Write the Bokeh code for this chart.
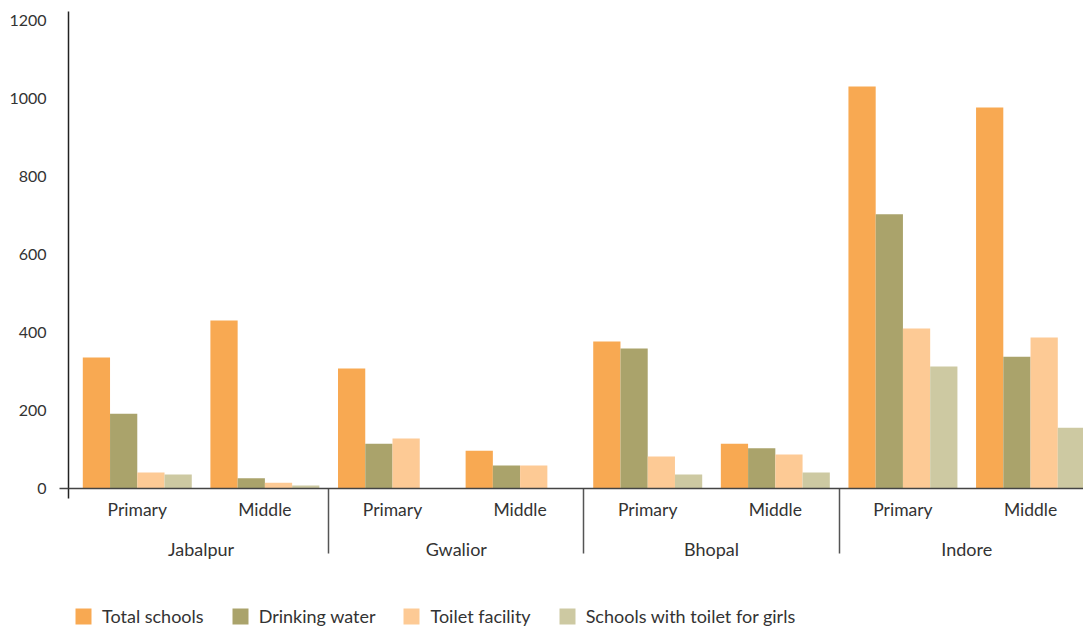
from bokeh.plotting import figure
from bokeh.layouts import column
from bokeh.models import Range1d, LinearAxis, FixedTicker, Span, Legend, LegendItem
from bokeh.embed import file_html
from bokeh.resources import INLINE

cities = ["Jabalpur", "Gwalior", "Bhopal", "Indore"]
levels = ["Primary", "Middle"]
series_names = ["Total schools", "Drinking water", "Toilet facility", "Schools with toilet for girls"]
total_schools = [336, 431, 308, 97, 377, 115, 1031, 977]
drinking_water = [192, 26, 115, 59, 359, 103, 703, 338]
toilet_facility = [41, 15, 128, 59, 82, 87, 410, 387]
girls_toilet = [36, 8, 0, 0, 36, 41, 313, 156]
y_ticks = [0, 200, 400, 600, 800, 1000, 1200]
colors = ["#F8A952", "#AAA36B", "#FDCA95", "#CDC9A2"]

FONT = "Lato"
TEXT = "#333333"

n_cat = len(cities) * len(levels)
centers = [i + 0.5 for i in range(n_cat)]
sub_labels = [levels[i % len(levels)] for i in range(n_cat)]
group_centers = [len(levels) * g + len(levels) / 2 for g in range(len(cities))]
separators = [len(levels) * g for g in range(1, len(cities))]

p = figure(width=1083, height=598, output_backend="svg", toolbar_location=None,
           x_range=Range1d(-0.039, 7.915), y_range=Range1d(-25.6, 1223),
           min_border_left=68, min_border_right=0, min_border_top=11, min_border_bottom=100)
p.outline_line_color = None
p.xgrid.visible = False
p.ygrid.visible = False
p.background_fill_color = "white"
p.border_fill_color = "white"

series = [total_schools, drinking_water, toilet_facility, girls_toilet]
bw = 0.2135
for k, vals in enumerate(series):
    xs = [c + (k - 1.5) * bw for c in centers]
    p.vbar(x=xs, top=vals, bottom=0, width=bw, fill_color=colors[k], line_color=None)

# baseline at zero
p.add_layout(Span(location=0, dimension="width", line_color="#444444", line_width=1.5))

# y axis
ya = p.yaxis[0]
ya.ticker = FixedTicker(ticks=y_ticks, minor_ticks=[0])
ya.axis_line_color = "#222222"
ya.axis_line_width = 1.5
ya.major_tick_out = 0
ya.major_tick_in = 0
ya.minor_tick_out = 9
ya.minor_tick_in = 0
ya.minor_tick_line_color = "#444444"
ya.minor_tick_line_width = 1.5
ya.major_label_text_font = FONT
ya.major_label_text_font_size = "16px"
ya.major_label_text_color = TEXT
ya.major_label_standoff = 13

# x axis (sub categories + group separators)
xa = p.xaxis[0]
xa.ticker = FixedTicker(ticks=centers, minor_ticks=separators)
xa.major_label_overrides = {c: s for c, s in zip(centers, sub_labels)}
xa.axis_line_color = None
xa.major_tick_out = 0
xa.major_tick_in = 0
xa.minor_tick_in = 10
xa.minor_tick_out = 55
xa.minor_tick_line_color = "#555555"
xa.minor_tick_line_width = 1.5
xa.major_label_text_font = FONT
xa.major_label_text_font_size = "17.5px"
xa.major_label_text_color = TEXT
xa.major_label_standoff = -55

# group axis
ga = LinearAxis(ticker=FixedTicker(ticks=group_centers, minor_ticks=[]))
ga.major_label_overrides = {c: s for c, s in zip(group_centers, cities)}
ga.axis_line_color = None
ga.major_tick_line_color = None
ga.minor_tick_line_color = None
ga.major_tick_out = 0
ga.major_tick_in = 0
ga.minor_tick_out = 0
ga.minor_tick_in = 0
ga.major_label_text_font = FONT
ga.major_label_text_font_size = "18px"
ga.major_label_text_color = TEXT
ga.major_label_standoff = 15
p.add_layout(ga, "below")

# legend strip (frame is aligned with the chart's frame by the column layout)
p2 = figure(width=1083, height=32, output_backend="svg", toolbar_location=None,
            x_range=Range1d(0, 1), y_range=Range1d(0, 1),
            x_axis_location=None, y_axis_location=None,
            min_border_left=0, min_border_right=0, min_border_top=0, min_border_bottom=0)
p2.outline_line_color = None
p2.xgrid.visible = False
p2.ygrid.visible = False
p2.background_fill_color = "white"
p2.border_fill_color = "white"
swatches = [p2.vbar(x=[0], top=[0], bottom=[0], width=0, fill_color=c, line_color=None) for c in colors]
legend = Legend(items=[LegendItem(label=n, renderers=[r]) for n, r in zip(series_names, swatches)],
                orientation="horizontal", location=(5, 3),
                glyph_width=20, glyph_height=20, label_standoff=9, spacing=26,
                padding=0, margin=0, border_line_color=None, background_fill_alpha=0,
                label_text_font=FONT, label_text_font_size="18px", label_text_color=TEXT)
p2.add_layout(legend)

open("out.html", "w").write(file_html(column(p, p2, spacing=0), INLINE))
